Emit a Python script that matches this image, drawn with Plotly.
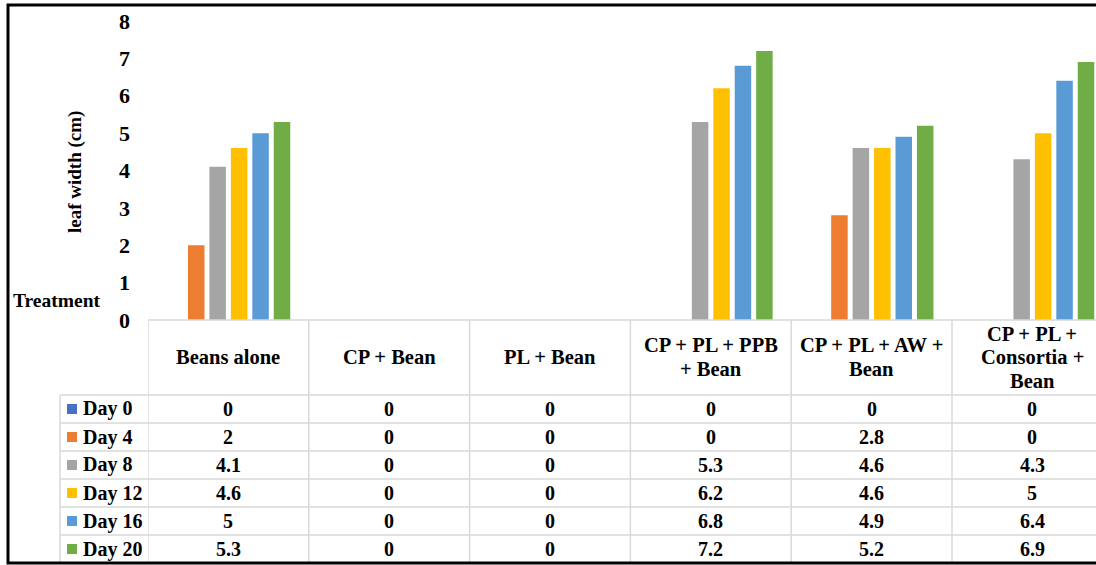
import plotly.graph_objects as go

# Treatments (column headers of the data table)
treatments = [
    "Beans alone",
    "CP + Bean",
    "PL + Bean",
    "CP + PL + PPB<br>+ Bean",
    "CP + PL + AW +<br>Bean",
    "CP + PL +<br>Consortia +<br>Bean",
]
days = ["Day 0", "Day 4", "Day 8", "Day 12", "Day 16", "Day 20"]

# Leaf width (cm) per sampling day
day0 = [0, 0, 0, 0, 0, 0]
day4 = [2, 0, 0, 0, 2.8, 0]
day8 = [4.1, 0, 0, 5.3, 4.6, 4.3]
day12 = [4.6, 0, 0, 6.2, 4.6, 5]
day16 = [5, 0, 0, 6.8, 4.9, 6.4]
day20 = [5.3, 0, 0, 7.2, 5.2, 6.9]
series = [day0, day4, day8, day12, day16, day20]

colors = ["#4472C4", "#ED7D31", "#A5A5A5", "#FFC000", "#5B9BD5", "#70AD47"]
y_ticks = [0, 1, 2, 3, 4, 5, 6, 7, 8]

W, H = 1096, 565
FONT = "Liberation Serif, Times New Roman, serif"
GRID = "#d9d9d9"


def fx(px):
    return px / W


def fy(py):
    return 1 - py / H


col_w = 160.8
x_pos = list(range(len(treatments)))

fig = go.Figure()
for name, vals, col in zip(days, series, colors):
    fig.add_trace(go.Bar(x=x_pos, y=vals, name=name, marker_color=col,
                         marker_line_width=0, showlegend=False))

shapes = []
# data table grid
shapes.append(dict(type="line", xref="paper", yref="paper", x0=fx(148), x1=1,
                   y0=fy(320), y1=fy(320), line=dict(color=GRID, width=1.5)))
for i in range(len(treatments)):
    shapes.append(dict(type="line", xref="x", yref="paper", x0=i - 0.5, x1=i - 0.5,
                       y0=fy(320), y1=fy(563), line=dict(color=GRID, width=1.5)))
shapes.append(dict(type="line", xref="paper", yref="paper", x0=fx(60), x1=fx(60),
                   y0=fy(395), y1=fy(563), line=dict(color=GRID, width=1.5)))
row_top = [395, 423, 451, 479, 507, 535]
for r in row_top:
    shapes.append(dict(type="line", xref="paper", yref="paper", x0=fx(60), x1=1,
                       y0=fy(r), y1=fy(r), line=dict(color=GRID, width=1.5)))

annotations = []
bold = dict(family=FONT, size=20, color="black", weight="bold")
head = dict(family=FONT, size=20.5, color="black", weight="bold")
# header cells: one annotation per text line for tighter line spacing
line_step = 23.5
for i, t in enumerate(treatments):
    lines = t.split("<br>")
    n = len(lines)
    for k, ln in enumerate(lines):
        yc = 357 + (k - (n - 1) / 2) * line_step
        annotations.append(dict(x=i, y=fy(yc), xref="x", yref="paper", text=ln,
                                showarrow=False, font=head, xanchor="center",
                                yanchor="middle"))
for r, (name, vals, col) in enumerate(zip(days, series, colors)):
    yc = row_top[r] + 14
    shapes.append(dict(type="rect", xref="paper", yref="paper",
                       x0=fx(67), x1=fx(77), y0=fy(yc + 5), y1=fy(yc - 5),
                       fillcolor=col, line_width=0))
    annotations.append(dict(x=fx(81), y=fy(yc), xref="paper", yref="paper",
                            text=name, showarrow=False, font=bold,
                            xanchor="left", yanchor="middle"))
    for i, v in enumerate(vals):
        annotations.append(dict(x=i, y=fy(yc), xref="x", yref="paper",
                                text=f"{v:g}", showarrow=False, font=bold,
                                xanchor="center", yanchor="middle"))

annotations.append(dict(x=fx(103), y=fy(300), xref="paper", yref="paper",
                        text="Treatment", showarrow=False,
                        font=dict(family=FONT, size=19.5, color="black", weight="bold"),
                        xanchor="right", yanchor="middle"))
annotations.append(dict(x=fx(75), y=fy(172), xref="paper", yref="paper",
                        text="leaf width (cm)", textangle=-90, showarrow=False,
                        font=dict(family=FONT, size=19, color="black", weight="bold"),
                        xanchor="center", yanchor="middle"))

# outer frame
shapes.append(dict(type="rect", xref="paper", yref="paper", x0=fx(8), x1=1.02,
                   y0=fy(563), y1=fy(5), line=dict(color="black", width=3),
                   fillcolor="rgba(0,0,0,0)"))

fig.update_layout(
    width=W, height=H,
    margin=dict(l=0, r=0, t=0, b=0, pad=0, autoexpand=False),
    paper_bgcolor="white", plot_bgcolor="white",
    barmode="group", bargap=0.2, bargroupgap=0.23,
    xaxis=dict(domain=[fx(148), 1], range=[-0.5, -0.5 + (W - 148) / col_w],
               showticklabels=False, showgrid=False, zeroline=False,
               showline=False, ticks="", automargin=False),
    yaxis=dict(domain=[fy(320), fy(21)], range=[0, 8], tickvals=y_ticks,
               ticks="", showgrid=False, zeroline=False, showline=False,
               automargin=False,
               tickfont=dict(family=FONT, size=22, color="black", weight="bold"),
               ticklabelstandoff=17),
    shapes=shapes,
    annotations=annotations,
)

fig.write_html("out.html")
